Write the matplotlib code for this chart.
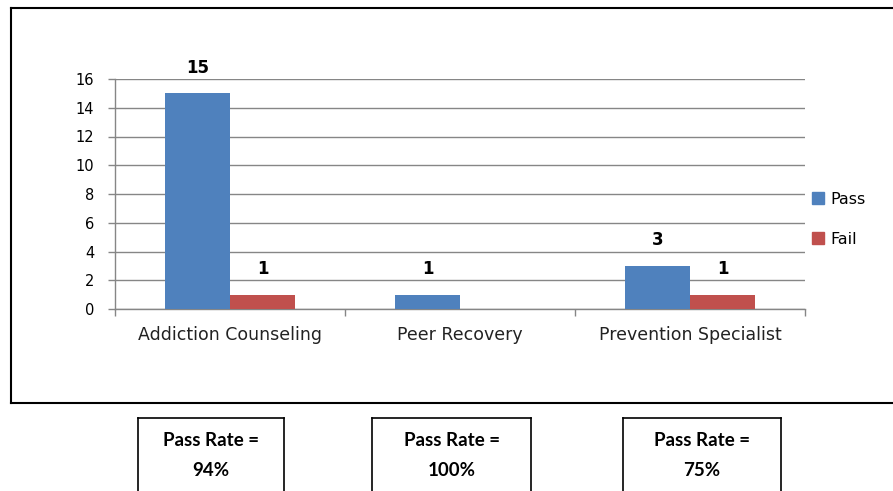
import matplotlib
matplotlib.use("Agg")
import matplotlib.pyplot as plt
from matplotlib.patches import Patch
from matplotlib.lines import Line2D
import numpy as np

categories = ["Addiction Counseling", "Peer Recovery", "Prevention Specialist"]
pass_counts = [15, 1, 3]
fail_counts = [1, 0, 1]
pass_rates = [94, 100, 75]
y_ticks = [0, 2, 4, 6, 8, 10, 12, 14, 16]

W, H = 893, 491
fig = plt.figure(figsize=(W / 100, H / 100), dpi=100)

def fx(x):
    return x / W

def fy(y):
    return 1 - y / H

def seg(xs, ys, lw):
    fig.add_artist(Line2D(xs, ys, transform=fig.transFigure, color="black",
                          linewidth=lw, solid_capstyle="projecting"))

# outer chart frame: left, top and bottom sides only (right side lies outside the picture)
seg([fx(11), 1.0], [fy(7.5), fy(7.5)], 1.5)
seg([fx(11), 1.0], [fy(403), fy(403)], 1.5)
seg([fx(11), fx(11)], [fy(7.5), fy(403)], 1.5)

ax = fig.add_axes([fx(115), fy(309), fx(805) - fx(115), fy(79) - fy(309)])

blue = "#4F81BD"
red = "#C0504D"
grid_c = "#868686"

x = np.arange(len(categories))
bw = 65 / 230
ax.bar(x - bw / 2, pass_counts, bw, color=blue, label="Pass", zorder=3)
fail_x = [xi + bw / 2 for xi, v in zip(x, fail_counts) if v > 0]
fail_v = [v for v in fail_counts if v > 0]
ax.bar(fail_x, fail_v, bw, color=red, label="Fail", zorder=3)

for xi, v in zip(x, pass_counts):
    ax.annotate(str(v), (xi - bw / 2, v), xytext=(0, 15), textcoords="offset points",
                ha="center", va="baseline", fontsize=12, fontweight="bold")
for xi, v in zip(fail_x, fail_v):
    ax.annotate(str(v), (xi, v), xytext=(0, 15), textcoords="offset points",
                ha="center", va="baseline", fontsize=12, fontweight="bold")

ax.set_xlim(-0.5, len(categories) - 0.5)
ax.set_ylim(0, 16)
ax.set_yticks(y_ticks)
ax.set_yticklabels([str(t) for t in y_ticks], fontsize=10.5)
ax.yaxis.grid(True, color=grid_c, linewidth=1, zorder=0)
ax.set_axisbelow(True)

ax.set_xticks(x)
ax.set_xticklabels(categories, fontsize=12.5, color="#222222")
ax.set_xticks(np.arange(-0.5, len(categories)), minor=True)
ax.tick_params(axis="x", which="major", length=0, pad=12)
ax.tick_params(axis="x", which="minor", length=5, width=1, color=grid_c, direction="out")
ax.tick_params(axis="y", length=5, width=1, color=grid_c, direction="out", pad=10)

for s in ["top", "right"]:
    ax.spines[s].set_visible(False)
for s in ["left", "bottom"]:
    ax.spines[s].set_color(grid_c)
    ax.spines[s].set_linewidth(1)

fig.legend(handles=[Patch(color=blue, label="Pass"), Patch(color=red, label="Fail")],
           loc="upper left", bbox_to_anchor=(fx(799), fy(179)), frameon=False,
           fontsize=11.5, handlelength=0.75, handleheight=0.75, handletextpad=0.4,
           labelspacing=1.55, borderpad=0.3)

# pass rate boxes: top and sides (bottom edge lies outside the picture)
box_x = [(138, 284), (372, 531), (623, 781)]
for (x0, x1), r in zip(box_x, pass_rates):
    seg([fx(x0), fx(x1)], [fy(418), fy(418)], 1.2)
    seg([fx(x0), fx(x0)], [0.0, fy(418)], 1.2)
    seg([fx(x1), fx(x1)], [0.0, fy(418)], 1.2)
    cx = fx((x0 + x1) / 2)
    fig.text(cx, fy(441), "Pass Rate =", ha="center", va="center", fontsize=13.5,
             fontweight="bold", family="Lato")
    fig.text(cx, fy(471), f"{r}%", ha="center", va="center", fontsize=13.5,
             fontweight="bold", family="Lato")

fig.savefig("out.png", dpi=100)
